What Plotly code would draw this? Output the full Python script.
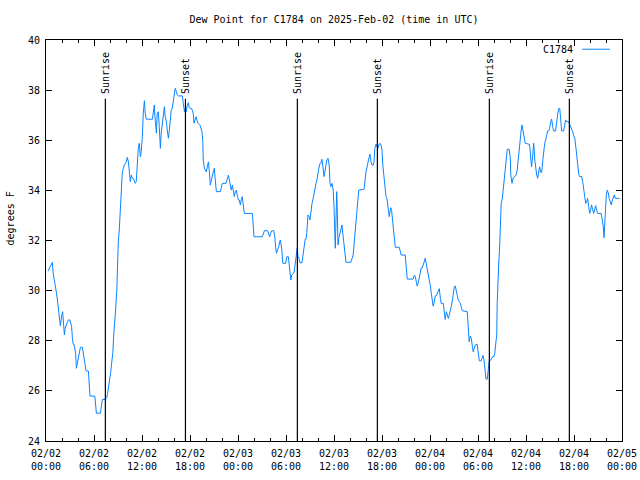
import datetime as dt
import plotly.graph_objects as go

START = dt.datetime(2025, 2, 2, 0, 0)
END = dt.datetime(2025, 2, 5, 0, 0)

# hours since 2025-02-02 00:00 UTC
hours = [
    0.25, 0.6, 0.8, 0.9, 1.1, 1.25, 1.4, 1.55, 1.67, 1.8, 1.95, 2.08, 2.3, 2.4, 2.6, 2.8, 3.0, 3.2, 3.3, 3.4,
    3.5, 3.7, 3.8, 3.9, 4.1, 4.3, 4.55, 4.66, 4.8, 4.9, 5.0, 5.3, 5.4, 5.5, 6.1, 6.2, 6.3, 6.8, 6.9, 7.05,
    7.4, 7.6, 7.7, 7.85, 7.95, 8.1, 8.2, 8.35, 8.45, 8.6, 8.7, 8.85, 8.95, 9.04, 9.16, 9.3, 9.4, 9.54, 9.67, 9.8,
    10.04, 10.16, 10.3, 10.4, 10.54, 10.66, 10.8, 10.92, 11.04, 11.16, 11.28, 11.4, 11.54, 11.66, 11.72, 11.8, 11.9, 12.04, 12.16, 12.3,
    12.4, 12.54, 13.3, 13.4, 13.54, 13.6, 13.66, 13.8, 13.9, 14.04, 14.16, 14.3, 14.4, 14.54, 14.66, 14.8, 14.9, 15.04, 15.16, 15.3,
    15.4, 15.54, 15.66, 15.78, 15.9, 16.04, 16.16, 16.3, 16.4, 16.54, 17.04, 17.16, 17.3, 17.42, 17.54, 17.66, 17.8, 17.9, 18.0, 18.2,
    18.4, 18.5, 18.62, 18.75, 18.88, 19.0, 19.25, 19.38, 19.5, 19.6, 19.66, 19.8, 19.92, 20.04, 20.16, 20.3, 20.42, 20.54, 20.66, 20.78,
    20.9, 21.04, 21.16, 21.3, 21.8, 21.9, 22.04, 22.5, 22.66, 22.8, 22.92, 23.04, 23.16, 23.3, 23.42, 23.54, 23.66, 23.78, 23.9, 24.04,
    24.16, 24.3, 24.4, 24.54, 24.66, 24.8, 25.8, 25.9, 26.0, 27.04, 27.16, 27.3, 27.7, 27.82, 27.96, 28.08, 28.2, 28.46, 28.6, 28.7,
    28.8, 28.94, 29.1, 29.2, 29.3, 29.46, 29.6, 29.96, 30.1, 30.3, 30.46, 30.6, 30.7, 31.0, 31.1, 31.25, 31.4, 31.5, 31.62, 31.75,
    32.0, 32.1, 32.25, 32.4, 32.5, 32.6, 32.75, 32.88, 33.0, 33.1, 33.25, 33.4, 33.5, 33.6, 33.75, 33.9, 34.0, 34.1, 34.25, 34.38,
    34.5, 34.6, 34.75, 34.9, 35.0, 35.1, 35.25, 35.4, 35.5, 35.6, 35.75, 35.9, 36.0, 36.1, 36.16, 36.22, 36.28, 36.34, 36.4, 36.46,
    36.5, 36.6, 36.75, 36.9, 37.0, 37.1, 37.25, 37.4, 37.5, 38.1, 38.25, 38.4, 38.5, 38.6, 38.75, 38.9, 39.0, 39.1, 39.75, 39.9,
    40.0, 40.4, 40.5, 40.62, 40.75, 40.88, 41.0, 41.1, 41.25, 41.4, 41.5, 41.6, 41.75, 41.88, 42.0, 42.1, 42.25, 42.4, 42.5, 42.62,
    42.75, 42.9, 43.0, 43.1, 43.2, 43.3, 43.4, 43.5, 43.66, 44.16, 44.3, 44.4, 44.9, 45.04, 45.16, 45.9, 46.04, 46.16, 46.3, 46.4,
    46.54, 46.66, 46.8, 46.9, 47.04, 47.16, 47.3, 47.4, 47.54, 47.66, 47.8, 47.9, 48.04, 48.16, 48.3, 48.4, 48.54, 48.66, 48.78, 48.9,
    49.04, 49.16, 49.3, 49.4, 49.66, 49.8, 49.9, 50.04, 50.16, 50.3, 50.42, 50.54, 50.66, 50.8, 50.9, 51.04, 51.16, 51.3, 51.4, 51.54,
    51.66, 51.8, 51.9, 52.04, 52.66, 52.8, 52.9, 53.04, 53.16, 53.3, 53.4, 53.54, 53.66, 53.9, 54.04, 54.16, 54.4, 54.5, 54.62, 54.75,
    54.9, 55.0, 55.16, 55.3, 55.4, 55.58, 55.7, 55.84, 56.0, 56.1, 56.2, 56.34, 56.4, 56.46, 56.6, 56.7, 56.8, 56.9, 57.04, 57.16,
    57.3, 57.4, 57.54, 57.66, 57.9, 58.04, 58.1, 58.25, 58.4, 58.6, 58.75, 58.9, 59.0, 59.1, 59.25, 59.4, 59.5, 59.6, 59.75, 59.9,
    60.4, 60.5, 60.6, 60.7, 60.84, 60.96, 61.1, 61.2, 61.34, 61.46, 61.58, 61.7, 61.84, 61.96, 62.1, 62.2, 62.34, 62.46, 62.6, 62.7,
    62.84, 62.96, 63.1, 63.2, 63.34, 63.46, 63.7, 63.84, 63.96, 64.1, 64.22, 64.34, 64.46, 64.7, 64.84, 64.96, 65.1, 65.34, 65.46, 65.6,
    65.7, 65.84, 65.96, 66.1, 66.2, 66.34, 66.46, 66.6, 66.7, 66.96, 67.1, 67.2, 67.34, 67.46, 67.58, 67.7, 67.84, 67.96, 68.08, 68.2,
    68.34, 68.46, 68.58, 68.7, 68.84, 68.96, 69.4, 69.54, 69.66, 69.75, 69.84, 69.9, 70.04, 70.16, 70.28, 70.4, 70.54, 70.66, 70.8, 70.9,
    71.04, 71.16, 71.7,
]

dew_point_f = [
    30.78, 31.0, 31.13, 30.69, 30.36, 30.02, 29.7, 29.36, 29.03, 28.59, 28.99, 29.16, 28.23, 28.5, 28.69, 28.83, 28.83, 28.56, 28.1, 27.86,
    27.86, 27.5, 26.9, 27.1, 27.43, 27.74, 27.74, 27.5, 27.16, 26.96, 26.8, 26.79, 26.03, 25.79, 25.79, 25.5, 25.11, 25.11, 25.37, 25.66,
    25.66, 25.73, 25.9, 26.17, 26.5, 26.77, 27.1, 27.5, 28.16, 28.7, 29.23, 30.02, 31.15, 31.95, 32.42, 33.15, 34.15, 34.74, 34.88, 35.01,
    35.14, 35.32, 35.14, 34.68, 34.35, 34.61, 34.48, 34.48, 34.35, 34.28, 34.35, 35.21, 35.68, 35.88, 35.5, 35.34, 35.54, 36.14, 37.08, 37.58,
    37.08, 36.84, 36.84, 37.21, 37.41, 37.0, 36.68, 36.28, 37.08, 37.14, 36.54, 35.68, 36.28, 36.68, 37.14, 37.34, 36.94, 36.74, 36.41, 36.08,
    36.34, 36.81, 37.21, 37.28, 37.61, 37.81, 38.07, 37.94, 37.81, 37.77, 37.77, 37.48, 37.14, 37.3, 37.14, 37.41, 37.5, 37.3, 37.27, 37.27,
    37.08, 36.68, 36.81, 36.94, 36.8, 36.68, 36.6, 36.5, 36.34, 35.94, 35.21, 34.88, 34.8, 34.74, 34.94, 35.14, 34.74, 34.21, 34.41, 34.55,
    34.74, 34.88, 34.41, 33.95, 33.95, 34.15, 34.28, 34.28, 34.48, 34.61, 34.41, 34.15, 34.01, 34.21, 34.01, 33.75, 33.95, 34.01, 33.82, 33.62,
    33.62, 33.42, 33.62, 33.75, 33.42, 33.08, 33.08, 32.68, 32.15, 32.15, 32.28, 32.39, 32.39, 32.28, 32.15, 32.28, 32.39, 32.39, 32.15, 31.75,
    31.49, 31.62, 31.75, 31.95, 32.02, 31.69, 31.09, 31.09, 31.35, 31.35, 30.69, 30.42, 30.62, 30.71, 30.95, 31.42, 31.69, 31.35, 31.3, 31.11,
    31.11, 31.35, 31.82, 32.05, 32.05, 32.31, 33.02, 32.95, 32.82, 33.22, 33.48, 33.68, 33.88, 34.08, 34.28, 34.48, 34.74, 34.88, 35.08, 35.1,
    35.24, 34.94, 34.55, 34.81, 35.08, 35.21, 35.28, 35.01, 34.28, 34.15, 34.28, 34.01, 33.35, 32.42, 31.69, 32.42, 33.35, 33.95, 33.35, 32.28,
    31.82, 32.09, 32.35, 32.55, 32.62, 32.28, 31.82, 31.42, 31.13, 31.13, 31.29, 31.42, 31.82, 32.28, 32.82, 33.28, 33.68, 34.01, 34.04, 34.35,
    34.74, 35.34, 35.45, 35.14, 35.01, 35.0, 35.14, 35.68, 35.84, 35.74, 35.68, 35.81, 35.88, 35.81, 35.61, 35.01, 34.48, 34.01, 33.75, 33.68,
    33.35, 32.95, 33.15, 33.31, 33.2, 32.89, 32.49, 32.02, 31.73, 31.73, 31.59, 31.42, 31.42, 30.82, 30.46, 30.46, 30.62, 30.56, 30.36, 30.18,
    30.32, 30.56, 30.76, 30.91, 30.91, 31.09, 31.18, 31.29, 31.09, 30.85, 30.62, 30.42, 30.22, 29.89, 29.62, 29.38, 29.56, 29.79, 29.79, 29.89,
    29.96, 30.08, 29.69, 29.49, 29.49, 29.09, 28.85, 29.16, 29.02, 28.89, 29.05, 29.16, 29.36, 29.62, 29.96, 30.16, 30.18, 30.02, 29.82, 29.62,
    29.56, 29.49, 29.36, 29.2, 29.16, 28.3, 27.96, 28.19, 28.1, 27.76, 27.56, 27.7, 27.83, 27.86, 27.5, 27.2, 27.2, 27.37, 27.42, 27.23,
    26.8, 26.47, 26.47, 26.96, 27.2, 27.22, 27.32, 27.37, 27.37, 27.5, 27.83, 28.23, 29.49, 30.36, 31.15, 31.69, 32.82, 33.48, 33.68, 34.08,
    34.65, 35.08, 35.44, 35.64, 35.64, 35.28, 34.61, 34.28, 34.5, 34.55, 34.6, 34.81, 35.14, 35.68, 36.08, 36.41, 36.61, 36.41, 36.21, 35.88,
    35.84, 35.68, 35.21, 34.94, 35.41, 35.88, 35.21, 34.88, 34.61, 34.48, 34.8, 34.94, 34.72, 34.72, 35.21, 35.61, 35.88, 36.01, 36.28, 36.37,
    36.37, 36.48, 36.74, 36.85, 36.54, 36.37, 36.37, 36.81, 37.04, 37.27, 37.27, 36.81, 36.37, 36.37, 36.61, 36.81, 36.74, 36.74, 36.64, 36.54,
    36.45, 36.34, 36.18, 36.08, 35.81, 35.41, 34.94, 34.64, 34.55, 34.55, 34.32, 34.01, 33.75, 33.48, 33.55, 33.68, 33.35, 33.08, 33.22, 33.42,
    33.22, 33.08, 33.22, 33.39, 33.22, 33.08, 33.08, 32.82, 32.55, 32.11, 32.75, 33.35, 33.82, 34.01, 33.9, 33.68, 33.55, 33.42, 33.62, 33.75,
    33.82, 33.68, 33.68,
]

sun_event_hours = [7.42, 17.43, 31.42, 41.42, 55.42, 65.42]
sun_event_labels = ["Sunrise", "Sunset", "Sunrise", "Sunset", "Sunrise", "Sunset"]

tick_hours = [0, 6, 12, 18, 24, 30, 36, 42, 48, 54, 60, 66, 72]
tick_labels = ["02/02<br>00:00", "02/02<br>06:00", "02/02<br>12:00", "02/02<br>18:00",
               "02/03<br>00:00", "02/03<br>06:00", "02/03<br>12:00", "02/03<br>18:00",
               "02/04<br>00:00", "02/04<br>06:00", "02/04<br>12:00", "02/04<br>18:00",
               "02/05<br>00:00"]

y_ticks = [24, 26, 28, 30, 32, 34, 36, 38, 40]

def to_time(h):
    return START + dt.timedelta(hours=h)

FONT = "DejaVu Sans Mono"
LINE_COLOR = "#0a84ff"

fig = go.Figure()
fig.add_trace(go.Scatter(
    x=[to_time(h) for h in hours], y=dew_point_f, mode="lines", name="C1784",
    line=dict(color=LINE_COLOR, width=1), showlegend=False,
))

for h, lab in zip(sun_event_hours, sun_event_labels):
    t = to_time(h)
    fig.add_shape(type="line", x0=t, x1=t, xref="x", yref="y", y0=24, y1=37.66,
                  line=dict(color="black", width=1.2))
    fig.add_annotation(x=t, y=37.78, xref="x", yref="y", text=lab, textangle=-90,
                       showarrow=False, xanchor="center", yanchor="bottom",
                       font=dict(family=FONT, size=10, color="black"))

# legend (gnuplot style: label then line sample)
fig.add_annotation(x=0.918, y=0.977, xref="paper", yref="paper", text="C1784",
                   showarrow=False, xanchor="right", yanchor="middle",
                   font=dict(family=FONT, size=10, color="black"))
fig.add_shape(type="line", xref="paper", yref="paper", x0=0.931, x1=0.979, y0=0.977, y1=0.977,
              line=dict(color=LINE_COLOR, width=1))

# y axis title
fig.add_annotation(x=-0.0625, y=0.555, xref="paper", yref="paper", text="degrees F",
                   textangle=-90, showarrow=False, xanchor="center", yanchor="middle",
                   font=dict(family=FONT, size=10, color="black"))

fig.update_layout(
    width=640, height=480,
    margin=dict(l=46, r=18, t=40, b=39, autoexpand=False),
    paper_bgcolor="white", plot_bgcolor="white",
    font=dict(family=FONT, size=10, color="black"),
    title=dict(text="Dew Point for C1784 on 2025-Feb-02 (time in UTC)", x=0.5, xanchor="center",
               xref="paper", y=1 - 19 / 480, yref="container", yanchor="middle",
               font=dict(family=FONT, size=10, color="black")),
    showlegend=False,
    xaxis=dict(
        type="date", range=[START, END], automargin=False,
        tickmode="array", tickvals=[to_time(h) for h in tick_hours], ticktext=tick_labels,
        ticks="inside", ticklen=6, tickcolor="black", mirror="allticks",
        showline=True, linecolor="black", linewidth=1, showgrid=False, zeroline=False,
        minor=dict(ticks="inside", ticklen=3, tickcolor="black", dtick=2 * 3600 * 1000, tick0=START),
        tickfont=dict(family=FONT, size=10), ticklabelstandoff=3,
    ),
    yaxis=dict(
        range=[24, 40], tickmode="array", tickvals=y_ticks, ticktext=[str(v) for v in y_ticks],
        automargin=False,
        ticks="inside", ticklen=6, tickcolor="black", mirror="allticks",
        showline=True, linecolor="black", linewidth=1, showgrid=False, zeroline=False,
        tickfont=dict(family=FONT, size=10), ticklabelstandoff=3,
    ),
)

fig.write_html("out.html", config={"displayModeBar": False},
               post_script="document.body.style.margin='0px';")
